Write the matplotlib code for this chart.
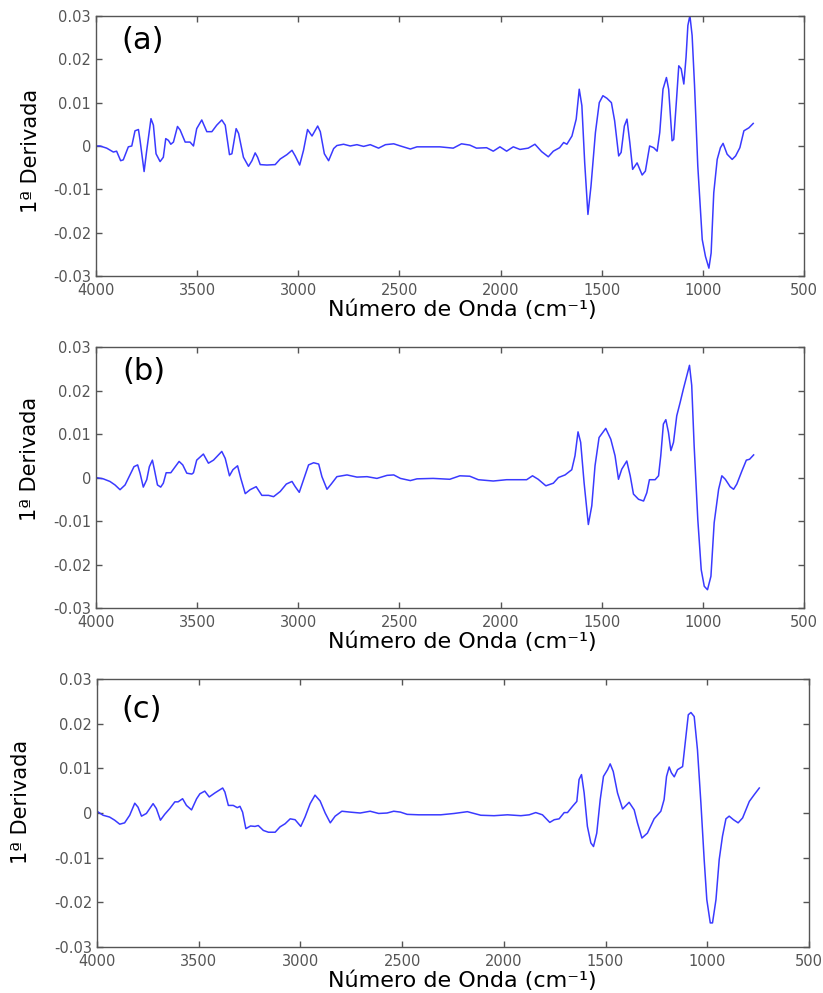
import matplotlib
matplotlib.use("Agg")
import matplotlib.pyplot as plt
from matplotlib.ticker import FuncFormatter

# Panel labels and shared axis limits / ticks
PANELS = ["(a)", "(b)", "(c)"]
X_TICKS = [4000, 3500, 3000, 2500, 2000, 1500, 1000, 500]
Y_TICKS = [-0.03, -0.02, -0.01, 0, 0.01, 0.02, 0.03]

# (a) wavenumber / first derivative
wn_a = [4000, 3980, 3947, 3914, 3898, 3878, 3865, 3840, 3823, 3807,
        3790, 3782, 3762, 3749, 3728, 3716, 3703, 3683, 3667, 3655,
        3642, 3630, 3617, 3597, 3584, 3559, 3535, 3518, 3502, 3477,
        3452, 3427, 3403, 3378, 3361, 3340, 3328, 3307, 3295, 3271,
        3246, 3229, 3213, 3201, 3188, 3155, 3114, 3089, 3056, 3031,
        3015, 2993, 2974, 2954, 2932, 2904, 2891, 2871, 2850, 2825,
        2809, 2776, 2743, 2710, 2677, 2644, 2603, 2569, 2528, 2495,
        2446, 2413, 2366, 2300, 2234, 2193, 2152, 2119, 2069, 2036,
        2003, 1970, 1937, 1904, 1863, 1830, 1797, 1764, 1739, 1708,
        1688, 1672, 1647, 1626, 1611, 1598, 1584, 1568, 1553, 1531,
        1512, 1494, 1474, 1452, 1436, 1416, 1404, 1388, 1375, 1361,
        1347, 1325, 1300, 1284, 1263, 1243, 1226, 1213, 1197, 1180,
        1169, 1152, 1144, 1130, 1119, 1107, 1094, 1083, 1074, 1064,
        1053, 1041, 1025, 1003, 987, 970, 959, 946, 929, 913,
        900, 880, 855, 838, 817, 797, 772, 751]
deriv_a = [0, 0, -0.0005, -0.0014, -0.0012, -0.0034, -0.0032, -0.0002, 0, 0.0035,
           0.0038, 0.0013, -0.0059, -0.001, 0.0063, 0.0048, -0.0018, -0.0036, -0.0026, 0.0017,
           0.0013, 0.0004, 0.0009, 0.0045, 0.0037, 0.0009, 0.0009, 0, 0.004, 0.006,
           0.0033, 0.0033, 0.0048, 0.006, 0.0048, -0.002, -0.0018, 0.004, 0.0029, -0.0026,
           -0.0047, -0.0034, -0.0016, -0.0026, -0.0043, -0.0044, -0.0043, -0.003, -0.002, -0.001,
           -0.0023, -0.0044, -0.001, 0.0038, 0.0023, 0.0046, 0.0033, -0.0018, -0.0034, -0.0006,
           0.0001, 0.0004, 0, 0.0003, -0.0001, 0.0003, -0.0005, 0.0003, 0.0005, 0,
           -0.0007, -0.0002, -0.0002, -0.0002, -0.0005, 0.0005, 0.0002, -0.0005, -0.0004, -0.0012,
           -0.0002, -0.0012, -0.0002, -0.0008, -0.0005, 0.0004, -0.0013, -0.0025, -0.0012, -0.0004,
           0.0008, 0.0004, 0.0023, 0.0062, 0.0131, 0.0093, -0.0039, -0.0158, -0.0093, 0.0031,
           0.01, 0.0116, 0.011, 0.01, 0.0058, -0.0023, -0.0015, 0.0046, 0.0062, 0.0008,
           -0.0054, -0.0039, -0.0067, -0.0058, 0, -0.0004, -0.0012, 0.0031, 0.0131, 0.0158,
           0.0131, 0.0012, 0.0015, 0.0108, 0.0185, 0.0178, 0.0143, 0.0205, 0.0278, 0.0301,
           0.0255, 0.0139, -0.0046, -0.0216, -0.0255, -0.0282, -0.0247, -0.0108, -0.0031, -0.0004,
           0.0006, -0.0019, -0.0031, -0.0023, -0.0004, 0.0035, 0.0042, 0.0052]

# (b)
wn_b = [4000, 3964, 3931, 3906, 3881, 3856, 3832, 3812, 3794, 3782,
        3766, 3749, 3736, 3721, 3711, 3696, 3680, 3667, 3653, 3630,
        3614, 3589, 3571, 3551, 3526, 3518, 3502, 3469, 3444, 3419,
        3394, 3378, 3361, 3340, 3323, 3300, 3284, 3262, 3238, 3208,
        3180, 3147, 3122, 3089, 3059, 3031, 3015, 2995, 2974, 2949,
        2924, 2899, 2883, 2858, 2837, 2809, 2759, 2710, 2660, 2611,
        2561, 2528, 2495, 2446, 2413, 2333, 2251, 2201, 2152, 2110,
        2036, 1970, 1904, 1871, 1842, 1814, 1776, 1739, 1714, 1681,
        1648, 1632, 1617, 1604, 1587, 1566, 1549, 1533, 1513, 1480,
        1455, 1434, 1417, 1401, 1376, 1359, 1343, 1318, 1293, 1277,
        1264, 1236, 1219, 1208, 1195, 1183, 1170, 1158, 1145, 1129,
        1112, 1096, 1079, 1066, 1055, 1043, 1025, 1008, 993, 977,
        960, 944, 922, 906, 889, 865, 848, 832, 807, 785,
        769, 749]
deriv_b = [0, -0.0003, -0.0009, -0.0017, -0.0028, -0.0017, 0.0006, 0.0025, 0.0029, 0.001,
           -0.0022, -0.0005, 0.0025, 0.004, 0.0018, -0.0017, -0.0022, -0.0013, 0.0011, 0.0011,
           0.0021, 0.0037, 0.0029, 0.001, 0.0008, 0.0011, 0.004, 0.0054, 0.0033, 0.004,
           0.0052, 0.006, 0.0044, 0.0004, 0.0018, 0.0027, -0.0002, -0.0037, -0.0028, -0.0021,
           -0.0041, -0.0041, -0.0044, -0.0032, -0.0015, -0.0009, -0.0021, -0.0034, -0.0005, 0.0029,
           0.0034, 0.0031, 0.0002, -0.0027, -0.0015, 0.0002, 0.0006, 0.0001, 0.0002, -0.0002,
           0.0005, 0.0006, -0.0002, -0.0007, -0.0003, -0.0002, -0.0004, 0.0004, 0.0003, -0.0005,
           -0.0008, -0.0005, -0.0005, -0.0005, 0.0004, -0.0004, -0.0019, -0.0013, 0, 0.0006,
           0.0018, 0.005, 0.0105, 0.0081, -0.0012, -0.0108, -0.0065, 0.0027, 0.0092, 0.0113,
           0.0088, 0.005, -0.0004, 0.0019, 0.0038, 0.0004, -0.0038, -0.005, -0.0054, -0.0035,
           -0.0005, -0.0005, 0.0004, 0.005, 0.0123, 0.0133, 0.0104, 0.0062, 0.0081, 0.0142,
           0.0173, 0.0204, 0.0235, 0.0258, 0.0212, 0.0073, -0.0096, -0.0212, -0.025, -0.0258,
           -0.0227, -0.0104, -0.0027, 0.0004, -0.0004, -0.0021, -0.0027, -0.0015, 0.0015, 0.004,
           0.0042, 0.0052]

# (c)
wn_c = [4000, 3970, 3938, 3913, 3888, 3864, 3839, 3814, 3798, 3781,
        3757, 3724, 3708, 3688, 3667, 3642, 3617, 3601, 3579, 3560,
        3535, 3510, 3494, 3470, 3448, 3420, 3382, 3371, 3354, 3330,
        3310, 3297, 3284, 3268, 3245, 3223, 3207, 3182, 3157, 3124,
        3100, 3075, 3050, 3026, 2998, 2977, 2952, 2928, 2903, 2878,
        2853, 2829, 2796, 2755, 2706, 2657, 2615, 2574, 2541, 2508,
        2475, 2418, 2310, 2244, 2179, 2113, 2048, 1982, 1916, 1875,
        1843, 1810, 1774, 1752, 1728, 1703, 1687, 1662, 1641, 1630,
        1618, 1605, 1589, 1572, 1559, 1543, 1526, 1510, 1490, 1477,
        1462, 1441, 1416, 1384, 1359, 1343, 1321, 1294, 1261, 1228,
        1212, 1200, 1187, 1176, 1162, 1146, 1121, 1108, 1093, 1080,
        1064, 1048, 1031, 1015, 1002, 985, 974, 957, 941, 925,
        908, 892, 871, 848, 826, 793, 769, 744]
deriv_c = [0.0004, -0.0005, -0.0009, -0.0016, -0.0025, -0.0022, -0.0005, 0.0022, 0.0013, -0.0007,
           -0.0001, 0.0021, 0.001, -0.0016, -0.0003, 0.001, 0.0025, 0.0025, 0.0032, 0.0017,
           0.0007, 0.0032, 0.0043, 0.0049, 0.0036, 0.0045, 0.0056, 0.0047, 0.0017, 0.0017,
           0.0012, 0.0015, 0.0002, -0.0035, -0.0029, -0.003, -0.0028, -0.0039, -0.0043, -0.0043,
           -0.0031, -0.0024, -0.0013, -0.0015, -0.003, -0.0009, 0.0021, 0.004, 0.0027, 0,
           -0.0022, -0.0007, 0.0004, 0.0002, 0, 0.0004, -0.0001, 0, 0.0004, 0.0002,
           -0.0003, -0.0004, -0.0004, -0.0001, 0.0003, -0.0005, -0.0006, -0.0004, -0.0006, -0.0004,
           0.0001, -0.0004, -0.0021, -0.0015, -0.0013, 0.0001, 0.0001, 0.0015, 0.0026, 0.0075,
           0.0086, 0.0045, -0.003, -0.0067, -0.0075, -0.0045, 0.003, 0.0082, 0.0097, 0.011,
           0.0093, 0.0045, 0.0009, 0.0024, 0.0007, -0.0022, -0.0056, -0.0045, -0.0013, 0.0004,
           0.003, 0.0082, 0.0103, 0.009, 0.0081, 0.0097, 0.0104, 0.0157, 0.022, 0.0225,
           0.0216, 0.0142, 0.0022, -0.0104, -0.0194, -0.0246, -0.0246, -0.0194, -0.0104, -0.0052,
           -0.0013, -0.0007, -0.0015, -0.0022, -0.0011, 0.0026, 0.0041, 0.0056]

series = [(wn_a, deriv_a), (wn_b, deriv_b), (wn_c, deriv_c)]
for wn, d in series:
    assert len(wn) == len(d)

# axes boxes in figure fraction [left, bottom, width, height]
boxes = [[0.1166, 0.7221, 0.8603, 0.2618],
         [0.1166, 0.3877, 0.8603, 0.2628],
         [0.1178, 0.0463, 0.8651, 0.2699]]
ylabel_pos = [(-0.092, 0.48), (-0.093, 0.57), (-0.107, 0.54)]
xlabel_pos = [(0.517, -0.13), (0.517, -0.13), (0.513, -0.127)]
panel_pos = [(0.066, 0.905), (0.068, 0.905), (0.063, 0.885)]

fig = plt.figure(figsize=(8.23, 9.93), dpi=100)

for i, (wn, d) in enumerate(series):
    ax = fig.add_axes(boxes[i])
    ax.plot(wn, d, color="#3a3aff", linewidth=1.1)
    ax.set_xlim(4000, 500)
    ax.set_ylim(-0.03, 0.03)
    ax.set_xticks(X_TICKS)
    ax.set_yticks(Y_TICKS)
    ax.yaxis.set_major_formatter(FuncFormatter(lambda v, p: "%g" % round(v, 3)))
    ax.tick_params(direction="in", length=4, width=1.0, color="#555555",
                   labelcolor="#555555", labelsize=10.5, top=True, right=True)
    ax.tick_params(axis="x", pad=5)
    for s in ax.spines.values():
        s.set_color("#555555")
        s.set_linewidth(1.0)
    ax.set_ylabel("1ª Derivada", fontsize=15, va="center")
    ax.yaxis.set_label_coords(*ylabel_pos[i])
    ax.set_xlabel("Número de Onda (cm⁻¹)", fontsize=16, va="center")
    ax.xaxis.set_label_coords(*xlabel_pos[i])
    ax.text(panel_pos[i][0], panel_pos[i][1], PANELS[i], transform=ax.transAxes,
            fontsize=22, ha="center", va="center")

plt.savefig("out.png", dpi=100)
